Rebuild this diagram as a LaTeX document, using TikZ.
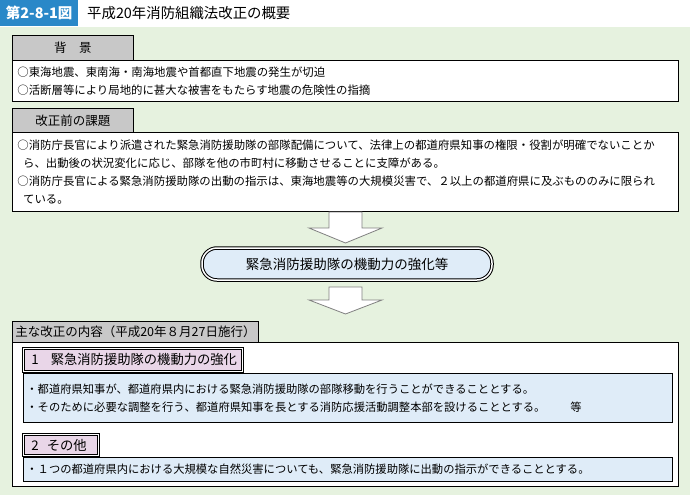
\documentclass[tikz,border=0pt]{standalone}
\usepackage{fontspec}
\setmainfont{Noto Sans CJK JP}
\usetikzlibrary{positioning}
\definecolor{bgGreen}{HTML}{E6F2DF}
\definecolor{titleBlue}{HTML}{2A88C8}
\definecolor{tabGray}{HTML}{C8C8C8}
\definecolor{itemPink}{HTML}{E9D6E8}
\definecolor{itemBlue}{HTML}{DFECF8}
\definecolor{arrowGray}{HTML}{808080}
\tikzset{
  tabbox/.style={draw, fill=tabGray, line width=0.8pt, anchor=north west, inner sep=0pt,
    font=\fontsize{12.5}{14}\selectfont},
  bodybox/.style={draw, fill=white, line width=0.8pt, anchor=north west, inner xsep=5pt,
    inner ysep=0pt, text width=#1, align=left, font=\fontsize{11.4}{18}\selectfont},
  itemhead/.style={draw, fill=itemPink, double, double distance=0.9pt, line width=0.9pt,
    anchor=north west, inner xsep=8pt, inner ysep=0pt, text width=#1, align=left,
    font=\fontsize{13.3}{15}\selectfont},
  itembody/.style={draw, fill=itemBlue, line width=0.8pt, anchor=north west, inner xsep=3pt,
    inner ysep=0pt, text width=643pt, align=left, font=\fontsize{11.3}{18}\selectfont},
}

\begin{document}
\begin{tikzpicture}[x=1pt, y=-1pt]
    \useasboundingbox (0,0) rectangle (690,495);
    \fill[bgGreen] (0,27) rectangle (690,495);
    % title
    \node[fill=titleBlue, text=white, anchor=north west, minimum width=78pt, minimum height=26pt,
      inner sep=0pt, font=\fontsize{14.5}{16}\selectfont\bfseries] (fig) at (0,0) {第2-8-1図};
    \node[anchor=west, inner sep=0pt, font=\fontsize{14.4}{16}\selectfont] (title) at (87,13)
      {平成20年消防組織法改正の概要};
    % background
    \node[tabbox, minimum width=121pt, minimum height=25pt] (haikei) at (12,35) {背　景};
    \node[bodybox=656pt, minimum height=41pt] (haikeibody) at (12,60)
      {○東海地震、東南海・南海地震や首都直下地震の発生が切迫\\
       ○活断層等により局地的に甚大な被害をもたらす地震の危険性の指摘};
    % issues
    \node[tabbox, minimum width=121pt, minimum height=24pt] (kadai) at (12,108) {改正前の課題};
    \node[bodybox=656pt, minimum height=79pt] (kadaibody) at (12,132)
      {\mbox{○消防庁長官により派遣された緊急消防援助隊の部隊配備について、法律上の都道府県知事の権限・役割が明確でないことか}\\
       \hspace*{0.5em}ら、出動後の状況変化に応じ、部隊を他の市町村に移動させることに支障がある。\\
       \mbox{○消防庁長官による緊急消防援助隊の出動の指示は、東海地震等の大規模災害で、２以上の都道府県に及ぶもののみに限られ}\\
       \hspace*{0.5em}ている。};
    % key point
    \node[draw, fill=itemBlue, double, double distance=1.5pt, line width=1pt, rounded corners=15pt,
      minimum width=290pt, minimum height=32pt, font=\fontsize{13.5}{15}\selectfont] (key) at (347,264)
      {緊急消防援助隊の機動力の強化等};
    \foreach \t/\h/\p in {212/228/243, 287/300/314}
        \draw[draw=arrowGray, fill=white, line width=0.8pt]
          (329,\t) -- (362,\t) -- (362,\h) -- (382,\h) -- (345.5,\p) -- (309,\h) -- (329,\h) -- cycle;
    % revision
    \node[tabbox, minimum width=246pt, minimum height=21pt] (kaisei) at (12,321)
      {主な改正の内容（平成20年８月27日施行）};
    \node[draw, fill=white, line width=0.8pt, anchor=north west, minimum width=666pt,
      minimum height=144pt, inner sep=0pt] (kaiseibody) at (12,342) {};
    \node[itemhead=203pt, minimum height=23pt] (item1) at (23,348)
      {\mbox{1\hspace{12pt}緊急消防援助隊の機動力の強化}};
    \node[itembody, minimum height=49pt] (item1body) at (23,373)
      {・都道府県知事が、都道府県内における緊急消防援助隊の部隊移動を行うことができることとする。\\
       \mbox{・そのために必要な調整を行う、都道府県知事を長とする消防応援活動調整本部を設けることとする。\hspace{2.2em}等}};
    \node[itemhead=59pt, minimum height=21pt] (item2) at (23,434)
      {\mbox{2\hspace{0.6em}その他}};
    \node[itembody, minimum height=24pt] (item2body) at (23,457)
      {\mbox{・１つの都道府県内における大規模な自然災害についても、緊急消防援助隊に出動の指示ができることとする。}};
\end{tikzpicture}
\end{document}
